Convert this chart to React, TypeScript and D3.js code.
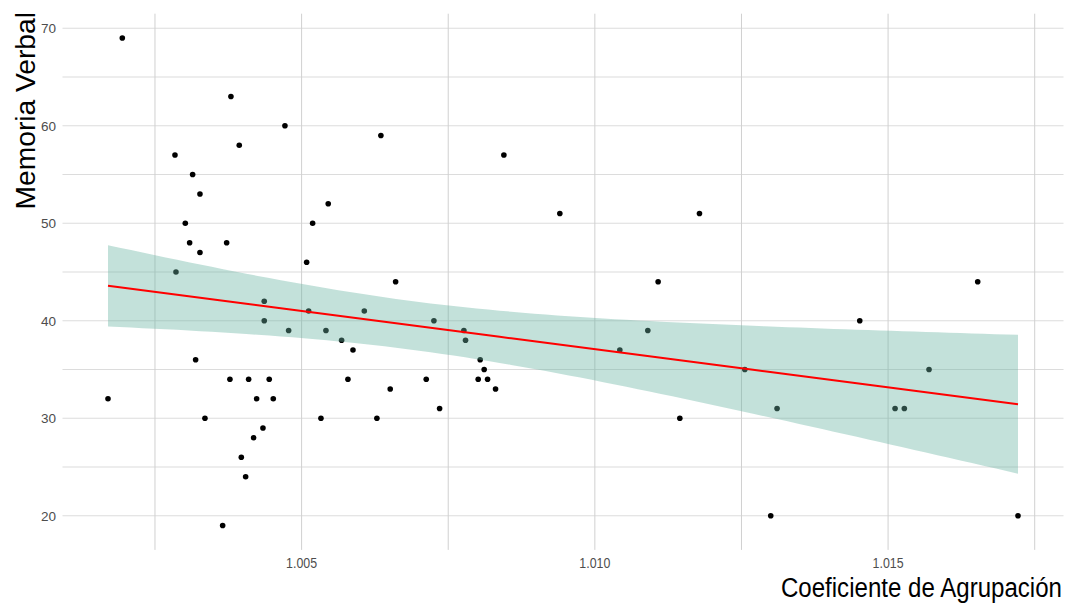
import React from "react";
import * as d3 from "d3";

// Clustering coefficient (x) vs. verbal memory score (y), one entry per subject
const coeficiente = [
  1.001943, 1.003795, 1.004716, 1.003937, 1.002841, 1.003142, 1.003267, 1.005454,
  1.003017, 1.005188, 1.003091, 1.003722, 1.003267, 1.005086, 1.002858, 1.004363,
  1.00512, 1.004363, 1.004779, 1.005415, 1.005682, 1.005876, 1.003193, 1.003778,
  1.004097, 1.004448, 1.00579, 1.001699, 1.004233, 1.004517, 1.003352, 1.00533,
  1.004341, 1.004182, 1.003972, 1.004046, 1.003654, 1.006352, 1.008449, 1.009403,
  1.006603, 1.006069, 1.007256, 1.007767, 1.007795, 1.008045, 1.008113, 1.007125,
  1.008011, 1.008171, 1.006511, 1.008307, 1.007353, 1.006284, 1.011784, 1.011079,
  1.016528, 1.014517, 1.010903, 1.010426, 1.012557, 1.015698, 1.013107, 1.015119,
  1.015277, 1.011449, 1.012999, 1.017215,
];
const memoria = [
  69, 63, 60, 58, 57, 55, 53, 52,
  50, 50, 48, 48, 47, 46, 45, 42,
  41, 40, 39, 39, 38, 37, 36, 34,
  34, 34, 34, 32, 32, 32, 30, 30,
  29, 28, 26, 24, 19, 59, 57, 51,
  44, 41, 40, 39, 38, 36, 35, 34,
  34, 34, 33, 33, 31, 30, 51, 44,
  44, 40, 39, 37, 35, 35, 31, 31,
  31, 30, 20, 20,
];

const xMajor = [1.005, 1.01, 1.015];
const xMinor = [1.0025, 1.0075, 1.0125, 1.0175];
const yMajor = [20, 30, 40, 50, 60, 70];
const yMinor = [25, 35, 45, 55, 65];

const W = 1072;
const H = 615;
const panel = { left: 62.5, right: 1063.5, top: 13.7, bottom: 549.9 };

// Ordinary least squares fit with a 95% confidence band
function fitLinear(xs: number[], ys: number[]) {
  const n = xs.length;
  const mx = d3.mean(xs)!;
  const my = d3.mean(ys)!;
  let sxx = 0;
  let sxy = 0;
  for (let i = 0; i < n; i++) {
    sxx += (xs[i] - mx) ** 2;
    sxy += (xs[i] - mx) * (ys[i] - my);
  }
  const slope = sxy / sxx;
  const intercept = my - slope * mx;
  let sse = 0;
  for (let i = 0; i < n; i++) sse += (ys[i] - (intercept + slope * xs[i])) ** 2;
  const s = Math.sqrt(sse / (n - 2));
  const t = 1.9966; // t(0.975, df = 66)
  const [x0, x1] = d3.extent(xs) as [number, number];
  return d3.range(80).map((i) => {
    const x = x0 + ((x1 - x0) * i) / 79;
    const y = intercept + slope * x;
    const se = s * Math.sqrt(1 / n + (x - mx) ** 2 / sxx);
    return { x, y, lo: y - t * se, hi: y + t * se };
  });
}

export default function App() {
  const [xmin, xmax] = d3.extent(coeficiente) as [number, number];
  const [ymin, ymax] = d3.extent(memoria) as [number, number];
  const xPad = (xmax - xmin) * 0.05;
  const yPad = (ymax - ymin) * 0.05;

  const x = d3.scaleLinear().domain([xmin - xPad, xmax + xPad]).range([panel.left, panel.right]);
  const y = d3.scaleLinear().domain([ymin - yPad, ymax + yPad]).range([panel.bottom, panel.top]);

  const fit = fitLinear(coeficiente, memoria);
  const band = d3
    .area<{ x: number; lo: number; hi: number }>()
    .x((d) => x(d.x))
    .y0((d) => y(d.lo))
    .y1((d) => y(d.hi));
  const line = d3
    .line<{ x: number; y: number }>()
    .x((d) => x(d.x))
    .y((d) => y(d.y));

  const font = "'Liberation Sans', Arial, sans-serif";

  return (
    <svg
      width={W}
      height={H}
      style={{ position: "absolute", left: 0, top: 0, background: "#fff" }}
      fontFamily={font}
    >
      {/* grid */}
      {[...yMinor, ...yMajor].map((v) => (
        <line
          key={"gy" + v}
          x1={panel.left}
          x2={panel.right}
          y1={y(v)}
          y2={y(v)}
          stroke="#DCDCDC"
          strokeWidth={1.1}
        />
      ))}
      {[...xMinor, ...xMajor].map((v) => (
        <line
          key={"gx" + v}
          x1={x(v)}
          x2={x(v)}
          y1={panel.top}
          y2={panel.bottom}
          stroke="#D0D0D0"
          strokeWidth={1}
        />
      ))}

      {/* points */}
      {coeficiente.map((cx, i) => (
        <circle key={i} cx={x(cx)} cy={y(memoria[i])} r={2.8} fill="#000" />
      ))}

      {/* confidence band and fitted line */}
      <path d={band(fit)!} fill="#69b3a2" fillOpacity={0.4} />
      <path d={line(fit)!} fill="none" stroke="#FF0000" strokeWidth={2} />

      {/* axis labels (slightly condensed) */}
      {xMajor.map((v) => (
        <text
          key={"tx" + v}
          transform={`translate(${x(v)},568) scale(0.886,1)`}
          textAnchor="middle"
          fontSize={14}
          fill="#4D4D4D"
        >
          {d3.format(".3f")(v)}
        </text>
      ))}
      {yMajor.map((v) => (
        <text
          key={"ty" + v}
          x={56}
          y={y(v)}
          dy="0.35em"
          textAnchor="end"
          fontSize={13.5}
          fill="#4D4D4D"
        >
          {v}
        </text>
      ))}

      {/* axis titles */}
      <text
        transform="translate(1062,597) scale(0.86,1)"
        textAnchor="end"
        fontSize={28}
        fill="#000"
      >
        Coeficiente de Agrupación
      </text>
      <text
        transform="translate(35,12) rotate(-90)"
        textAnchor="end"
        fontSize={28.2}
        fill="#000"
      >
        Memoria Verbal
      </text>
    </svg>
  );
}
